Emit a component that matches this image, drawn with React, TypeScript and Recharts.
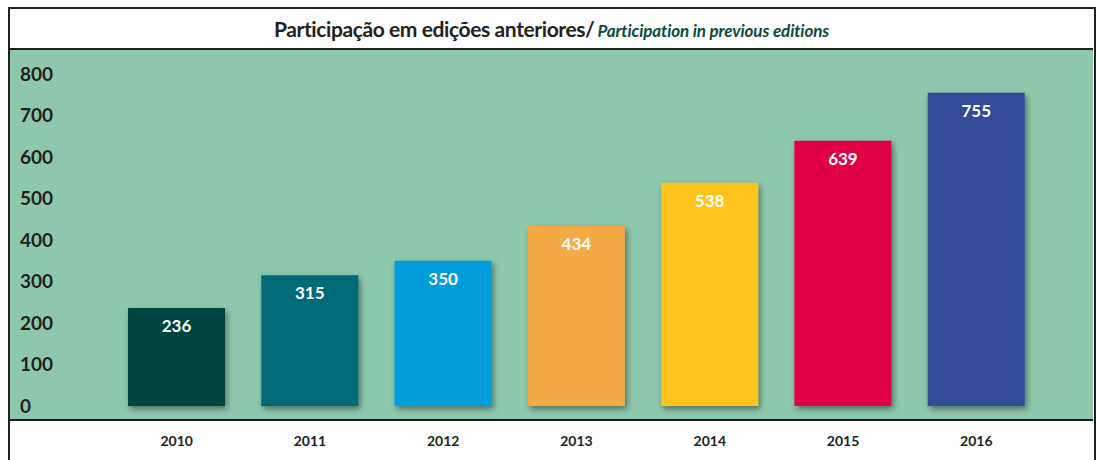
import { BarChart, Bar, XAxis, YAxis, Cell, LabelList } from "recharts";

const years = ["2010", "2011", "2012", "2013", "2014", "2015", "2016"];
const participants = [236, 315, 350, 434, 538, 639, 755];
const barColors = ["#00443f", "#006b78", "#009ddc", "#f4a947", "#fcc41c", "#e20045", "#314b96"];
const yTicks = [0, 100, 200, 300, 400, 500, 600, 700, 800];

const titlePt = "Participação em edições anteriores/";
const titleEn = "Participation in previous editions";

const data = years.map((year, i) => ({ year, value: participants[i] }));

const INK = "#231f20";
const GREEN = "#8dc8ad";
const FONT = "Lato, 'Open Sans', sans-serif";

const Y_LABEL_X = 20;
const X_LABEL_Y = 446;

function YTick(props: any) {
  const { y, payload } = props;
  return (
    <text x={Y_LABEL_X} y={y} dy="0.35em" textAnchor="start" fill={INK}
      style={{ fontFamily: FONT, fontWeight: 700, fontSize: 19 }}>
      {payload.value}
    </text>
  );
}

function XTick(props: any) {
  const { x, payload } = props;
  return (
    <text x={x} y={X_LABEL_Y} textAnchor="middle" fill={INK}
      style={{ fontFamily: FONT, fontWeight: 700, fontSize: 14 }}>
      {payload.value}
    </text>
  );
}

function ValueLabel(props: any) {
  const { x, y, width, value } = props;
  return (
    <text x={x + width / 2} y={y + 18} dy="0.35em" textAnchor="middle" fill="#ffffff"
      style={{ fontFamily: FONT, fontWeight: 700, fontSize: 17 }}>
      {value}
    </text>
  );
}

export default function App() {
  return (
    <div style={{ position: "absolute", left: 0, top: 0, width: 1096, height: 460, background: "#fff", overflow: "hidden" }}>
      {/* frame */}
      <div style={{ position: "absolute", left: 8, top: 7, width: 1084, height: 460, borderLeft: `2px solid ${INK}`, borderRight: `2px solid ${INK}`, borderTop: `2px solid ${INK}` }} />
      <div style={{ position: "absolute", left: 10, top: 48, width: 1083, height: 2, background: INK }} />
      <div style={{ position: "absolute", left: 10, top: 50, width: 1083, height: 369, background: GREEN }} />
      <div style={{ position: "absolute", left: 10, top: 419, width: 1083, height: 2, background: INK }} />
      {/* title */}
      <div style={{ position: "absolute", left: 10, top: 9, width: 1083, height: 39, display: "flex", alignItems: "center", justifyContent: "center", fontFamily: FONT, whiteSpace: "nowrap" }}>
        <span style={{ fontWeight: 700, fontSize: 21, letterSpacing: -0.4, color: INK }}>{titlePt}</span>
        <span style={{ fontWeight: 700, fontStyle: "italic", fontSize: 17, letterSpacing: -0.1, color: "#0b4a40", marginLeft: 3, marginTop: 3 }}>{titleEn}</span>
      </div>
      <div style={{ position: "absolute", left: 0, top: 0 }}>
        <BarChart width={1096} height={460} data={data} margin={{ top: 74, right: 53, bottom: 0, left: 10 }}>
          <defs>
            <filter id="barShadow" x="-20%" y="-20%" width="140%" height="140%">
              <feDropShadow dx="2" dy="3" stdDeviation="3" floodColor="#000" floodOpacity="0.45" />
            </filter>
          </defs>
          <XAxis dataKey="year" height={54} axisLine={false} tickLine={false} tick={<XTick />} interval={0} />
          <YAxis width={100} domain={[0, 800]} ticks={yTicks} axisLine={false} tickLine={false} tick={<YTick />} interval={0} />
          <Bar dataKey="value" barSize={97} isAnimationActive={false}>
            {data.map((d, i) => (
              <Cell key={d.year} fill={barColors[i]} filter="url(#barShadow)" />
            ))}
            <LabelList dataKey="value" content={<ValueLabel />} />
          </Bar>
        </BarChart>
      </div>
    </div>
  );
}
